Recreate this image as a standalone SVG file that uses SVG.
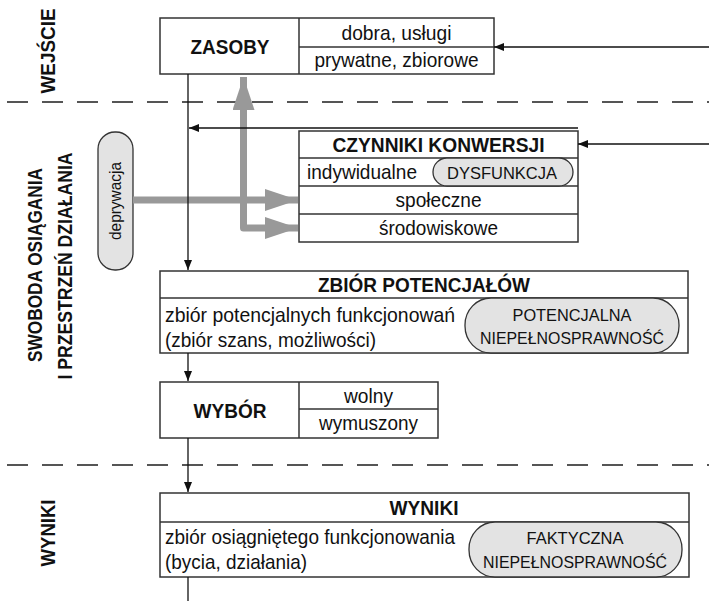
<svg xmlns="http://www.w3.org/2000/svg" width="709" height="601" viewBox="0 0 709 601">
<defs>
<marker id="ah" markerWidth="10" markerHeight="8" refX="10" refY="4" orient="auto" markerUnits="userSpaceOnUse">
<path d="M0,0 L10,4 L0,8 Z" fill="#111"/>
</marker>
<marker id="gh" markerWidth="33" markerHeight="22" refX="33" refY="11" orient="auto-start-reverse" markerUnits="userSpaceOnUse">
<path d="M0,0 L33,11 L0,22 Z" fill="#999"/>
</marker>
</defs>
<style>
.box{fill:#fff;stroke:#333;stroke-width:1.5}
.ln{stroke:#333;stroke-width:1.5;fill:none}
.pill{fill:#e3e3e3;stroke:#333;stroke-width:1.3}
.t{font-family:"Liberation Sans",Arial,sans-serif;font-size:21px;fill:#111}
.b{font-family:"Liberation Sans",Arial,sans-serif;font-size:21px;font-weight:bold;fill:#111}
.s{font-family:"Liberation Sans",Arial,sans-serif;font-size:17px;fill:#111}
.lab{font-family:"Liberation Sans",Arial,sans-serif;font-size:20px;font-weight:bold;fill:#111}
.c{text-anchor:middle}
.dash{stroke:#555;stroke-width:2;stroke-dasharray:21 14;fill:none}
.thin{stroke:#111;stroke-width:1.3;fill:none}
.gray{stroke:#999;stroke-width:7;fill:none;stroke-linejoin:round}
</style>

<g id="separators">
<line class="dash" x1="7" y1="102" x2="709" y2="102"/>
<line class="dash" x1="7" y1="465" x2="709" y2="465"/>
</g>

<g id="side-labels">
<text class="lab c" transform="translate(55,51) rotate(-90)" textLength="85" lengthAdjust="spacingAndGlyphs">WEJŚCIE</text>
<text class="lab c" transform="translate(42,265) rotate(-90)" textLength="194" lengthAdjust="spacingAndGlyphs">SWOBODA OSIĄGANIA</text>
<text class="lab c" transform="translate(72,266) rotate(-90)" textLength="227" lengthAdjust="spacingAndGlyphs">I PRZESTRZEŃ DZIAŁANIA</text>
<text class="lab c" transform="translate(55,533) rotate(-90)" textLength="67" lengthAdjust="spacingAndGlyphs">WYNIKI</text>
</g>

<g id="zasoby">
<rect class="box" x="160" y="18" width="334" height="56"/>
<line class="ln" x1="299" y1="18" x2="299" y2="74"/>
<line class="ln" x1="299" y1="47" x2="494" y2="47"/>
<text class="b c" x="230" y="54" textLength="79" lengthAdjust="spacingAndGlyphs">ZASOBY</text>
<text class="t c" x="396.5" y="40" textLength="110" lengthAdjust="spacingAndGlyphs">dobra, usługi</text>
<text class="t c" x="396.5" y="67" textLength="164" lengthAdjust="spacingAndGlyphs">prywatne, zbiorowe</text>
</g>

<g id="czynniki">
<rect class="box" x="299" y="131" width="279" height="111"/>
<line class="ln" x1="299" y1="158" x2="578" y2="158"/>
<line class="ln" x1="299" y1="186" x2="578" y2="186"/>
<line class="ln" x1="299" y1="214" x2="578" y2="214"/>
<text class="b c" x="438.5" y="152" textLength="212" lengthAdjust="spacingAndGlyphs">CZYNNIKI KONWERSJI</text>
<text class="t" x="307" y="179" textLength="110" lengthAdjust="spacingAndGlyphs">indywidualne</text>
<text class="t c" x="438.5" y="207" textLength="86" lengthAdjust="spacingAndGlyphs">społeczne</text>
<text class="t c" x="438.5" y="235" textLength="119" lengthAdjust="spacingAndGlyphs">środowiskowe</text>
</g>

<g id="dysfunkcja">
<rect class="pill" x="433" y="158" width="140" height="28" rx="14" ry="14"/>
<text class="s c" x="502" y="179" textLength="110" lengthAdjust="spacingAndGlyphs">DYSFUNKCJA</text>
</g>

<g id="deprywacja">
<rect class="pill" x="98" y="132" width="35" height="138" rx="17" ry="17"/>
<text class="s c" transform="translate(121,201) rotate(-90)" textLength="78" lengthAdjust="spacingAndGlyphs">deprywacja</text>
</g>

<g id="zbior">
<rect class="box" x="160" y="271" width="528" height="82"/>
<line class="ln" x1="160" y1="298" x2="688" y2="298"/>
<text class="b c" x="424" y="292" textLength="212" lengthAdjust="spacingAndGlyphs">ZBIÓR POTENCJAŁÓW</text>
<text class="t" x="165" y="322" textLength="290" lengthAdjust="spacingAndGlyphs">zbiór potencjalnych funkcjonowań</text>
<text class="t" x="165" y="347" textLength="211" lengthAdjust="spacingAndGlyphs">(zbiór szans, możliwości)</text>
</g>

<g id="potencjalna">
<rect class="pill" x="465" y="298" width="214" height="55" rx="26" ry="27"/>
<text class="s c" x="572" y="321" textLength="119" lengthAdjust="spacingAndGlyphs">POTENCJALNA</text>
<text class="s c" x="572" y="344" textLength="184" lengthAdjust="spacingAndGlyphs">NIEPEŁNOSPRAWNOŚĆ</text>
</g>

<g id="wybor">
<rect class="box" x="160" y="382" width="278" height="56"/>
<line class="ln" x1="299" y1="382" x2="299" y2="438"/>
<line class="ln" x1="299" y1="409" x2="438" y2="409"/>
<text class="b c" x="230" y="418" textLength="73" lengthAdjust="spacingAndGlyphs">WYBÓR</text>
<text class="t c" x="368.5" y="403" textLength="49" lengthAdjust="spacingAndGlyphs">wolny</text>
<text class="t c" x="368.5" y="430" textLength="99" lengthAdjust="spacingAndGlyphs">wymuszony</text>
</g>

<g id="wyniki">
<rect class="box" x="160" y="493" width="529" height="84"/>
<line class="ln" x1="160" y1="522" x2="689" y2="522"/>
<text class="b c" x="424" y="515" textLength="69" lengthAdjust="spacingAndGlyphs">WYNIKI</text>
<text class="t" x="165" y="544" textLength="290" lengthAdjust="spacingAndGlyphs">zbiór osiągniętego funkcjonowania</text>
<text class="t" x="165" y="569" textLength="142" lengthAdjust="spacingAndGlyphs">(bycia, działania)</text>
</g>

<g id="faktyczna">
<rect class="pill" x="469" y="522" width="213" height="55" rx="26" ry="27"/>
<text class="s c" x="575" y="544" textLength="97" lengthAdjust="spacingAndGlyphs">FAKTYCZNA</text>
<text class="s c" x="575" y="568" textLength="184" lengthAdjust="spacingAndGlyphs">NIEPEŁNOSPRAWNOŚĆ</text>
</g>

<g id="connectors">
<line class="gray" x1="133" y1="200" x2="298" y2="200" marker-end="url(#gh)"/>
<path class="gray" d="M243.5,77 L243.5,228 L298,228" marker-start="url(#gh)" marker-end="url(#gh)"/>
<line class="thin" x1="709" y1="47" x2="494" y2="47" marker-end="url(#ah)"/>
<line class="thin" x1="709" y1="144" x2="578" y2="144" marker-end="url(#ah)"/>
<line class="thin" x1="578" y1="128" x2="189" y2="128" marker-end="url(#ah)"/>
<line class="thin" x1="188" y1="74" x2="188" y2="270" marker-end="url(#ah)"/>
<line class="thin" x1="188" y1="353" x2="188" y2="381" marker-end="url(#ah)"/>
<line class="thin" x1="188" y1="438" x2="188" y2="492" marker-end="url(#ah)"/>
<line class="thin" x1="188" y1="577" x2="188" y2="601"/>
</g>
</svg>
